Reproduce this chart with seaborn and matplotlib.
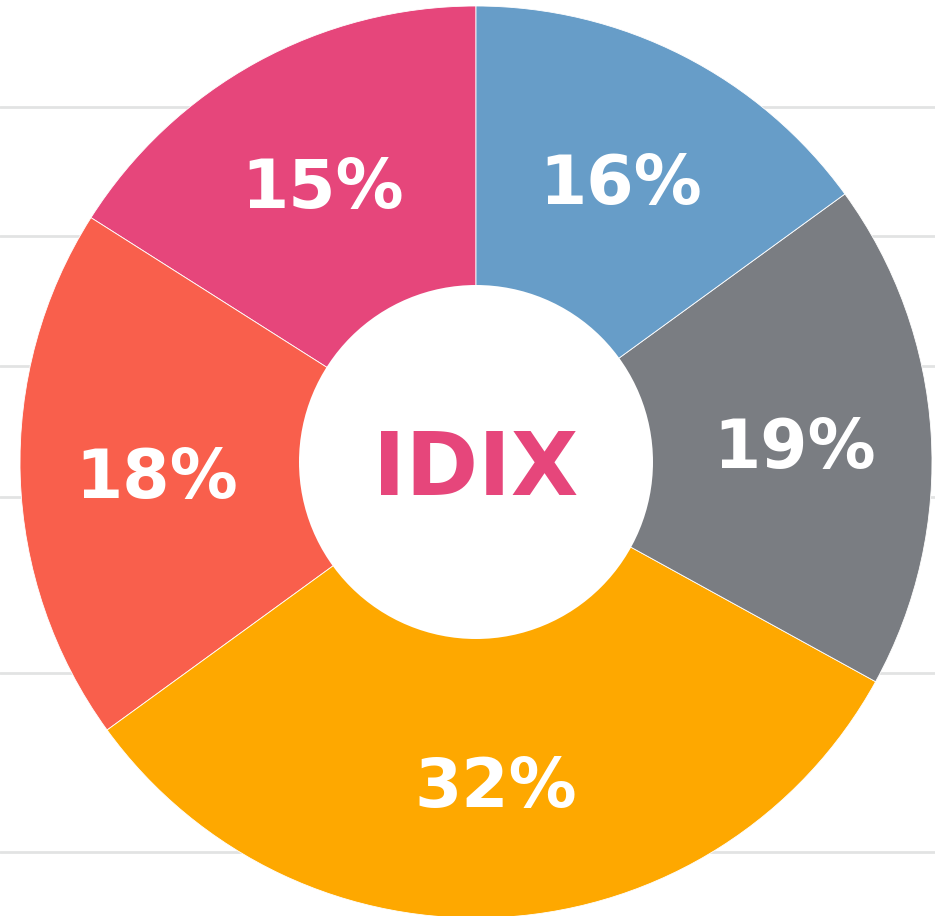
import matplotlib.pyplot as plt
from matplotlib.patches import Circle
import seaborn as sns

# wedge sizes, laid out counter-clockwise from 12 o'clock
shares = [16, 19, 32, 18, 15]
colors = ['#E6467B', '#F95F4C', '#FEA800', '#7A7D82', '#679DC8']
# text printed on each wedge (as it appears in the chart)
labels = ['15%', '18%', '32%', '19%', '16%']
center_text = 'IDIX'

# background rules (pixels from the bottom)
rules = [809, 680, 550, 419, 243, 64]

sns.set_theme(style='white')
plt.rcParams['font.family'] = ['DejaVu Sans']

W, H = 935, 916
cx, cy, R, hole = 476, 454, 456, 177

fig = plt.figure(figsize=(W / 100, H / 100), dpi=100)
ax = fig.add_axes([0, 0, 1, 1])

for y in rules:
    ax.axhline(y, color='#E2E3E3', linewidth=2, zorder=0)

ax.pie(
    shares,
    labels=labels,
    colors=colors,
    startangle=90,
    counterclock=True,
    radius=R,
    center=(cx, cy),
    labeldistance=0.70,
    wedgeprops=dict(linewidth=0.6, edgecolor='white'),
    textprops=dict(color='white', fontsize=49, fontweight='bold',
                   ha='center', va='center_baseline', zorder=6),
    frame=True,
)
ax.add_patch(Circle((cx, cy), hole, facecolor='white', edgecolor='none', zorder=5))

ax.text(cx, cy, center_text, ha='center', va='center_baseline',
        color='#E6467B', fontsize=63, fontweight='bold', zorder=6)

ax.set_xlim(0, W)
ax.set_ylim(0, H)
ax.set_aspect('equal')
ax.axis('off')

fig.savefig('out.png', dpi=100, facecolor='white')
